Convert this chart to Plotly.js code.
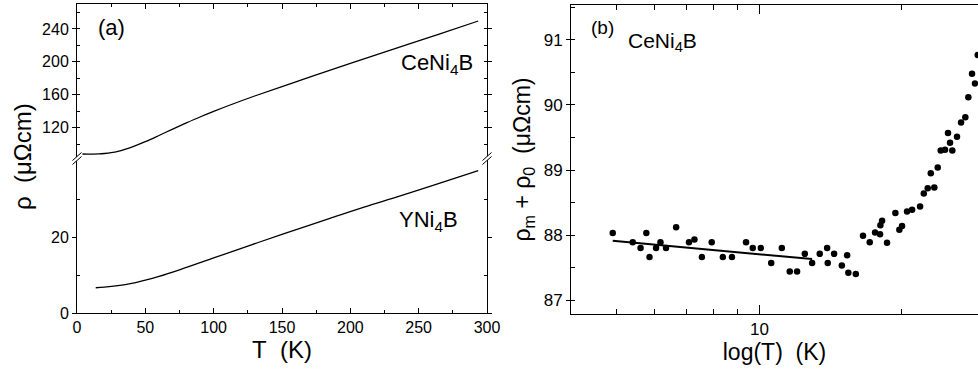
<!DOCTYPE html>
<html><head><meta charset="utf-8">
<script src="https://cdn.plot.ly/plotly-3.0.1.min.js"></script>
<style>html,body{margin:0;padding:0;background:#fff}#chart{width:978px;height:375px}</style>
</head><body><div id="chart"></div>
<script>
// Panel (a): resistivity vs temperature
const ceT   = [4, 8, 12, 16, 20, 25, 30, 35, 41, 50, 60, 70, 80, 90, 100, 114, 130, 150, 175, 200, 236, 265, 293.6];
const ceRho = [88.0, 87.9, 87.9, 88.1, 88.6, 89.6, 91.2, 93.6, 97.0, 103.0, 110.5, 118.3, 125.8, 133.0, 139.8, 148.8, 158.5, 170.0, 184.2, 198.2, 218.0, 233.8, 249.7];
const yT    = [13.7, 20, 30, 40, 50, 60, 75, 100, 125, 151, 185, 210, 236, 265, 293.6];
const yRho  = [6.7, 6.85, 7.25, 7.85, 8.7, 9.7, 11.45, 14.6, 17.75, 21.0, 25.1, 28.1, 31.0, 34.4, 37.8];
const aLowerTicks = [0, 20];
const aUpperTicks = [120, 160, 200, 240];

// Panel (b): rho_m + rho_0 vs log(T)
const bT = [4.90, 5.40, 5.61, 5.77, 5.86, 6.05, 6.18, 6.35, 6.67, 7.10, 7.29, 7.56, 7.93, 8.37, 8.75, 9.37, 9.68,
  10.07, 10.59, 11.15, 11.59, 12.01, 12.47, 12.92, 13.41, 13.90, 13.94, 14.38, 14.93, 15.32, 15.41, 15.98,
  16.55, 17.10, 17.55, 17.98, 18.01, 18.16, 18.60, 19.37, 19.75, 20.01, 20.50, 21.01, 21.84, 22.24, 22.67,
  23.01, 23.41, 23.80, 24.15, 24.66, 25.02, 25.27, 25.55, 26.14, 26.66, 27.22, 27.62, 28.12, 28.53, 28.91];
const bRho = [88.03, 87.89, 87.80, 88.03, 87.66, 87.80, 87.89, 87.80, 88.12, 87.89, 87.93, 87.66, 87.89, 87.66, 87.66, 87.89, 87.80,
  87.80, 87.57, 87.80, 87.44, 87.44, 87.71, 87.57, 87.71, 87.80, 87.57, 87.71, 87.53, 87.69, 87.42, 87.40,
  87.99, 87.89, 88.04, 88.01, 88.15, 88.22, 87.88, 88.34, 88.08, 88.14, 88.36, 88.39, 88.44, 88.64, 88.72,
  88.95, 88.73, 89.04, 89.30, 89.31, 89.57, 89.42, 89.30, 89.51, 89.73, 89.81, 90.12, 90.48, 90.33, 90.77];
const fitT   = [4.90, 12.92];
const fitRho = [87.91, 87.63];
const bMajorTicks = [10];
const bMinorTicks = [5, 6, 7, 8, 9, 20];

const W = 978, H = 375;
const px = v => v / W, py = v => 1 - v / H;
const FONT = 'Liberation Sans, Arial, sans-serif';
const blk = '#000';

const traces = [
  {x: ceT, y: ceRho, xaxis: 'x3', yaxis: 'y2', mode: 'lines', line: {color: blk, width: 1.3, shape: 'spline'}, name: 'CeNi4B'},
  {x: yT, y: yRho, xaxis: 'x', yaxis: 'y', mode: 'lines', line: {color: blk, width: 1.3, shape: 'spline'}, name: 'YNi4B'},
  {x: bT, y: bRho, xaxis: 'x2', yaxis: 'y3', mode: 'markers', marker: {color: blk, size: 6.5}, name: 'data'},
  {x: fitT, y: fitRho, xaxis: 'x2', yaxis: 'y3', mode: 'lines', line: {color: blk, width: 2}, name: 'fit'}
];

const axBase = {showline: true, linecolor: blk, linewidth: 1, showgrid: false, zeroline: false,
  tickcolor: blk, tickfont: {family: FONT, size: 16, color: blk}, fixedrange: true};

const breakShapes = [];
[77, 487].forEach(cx => {
  const cy = 160;
  breakShapes.push({type: 'path', xref: 'paper', yref: 'paper', layer: 'above',
    path: `M ${px(cx-4)} ${py(cy+4)} L ${px(cx+4)} ${py(cy-3)} L ${px(cx+4)} ${py(cy-7)} L ${px(cx-4)} ${py(cy)} Z`,
    fillcolor: '#fff', line: {width: 0}});
  breakShapes.push({type: 'line', xref: 'paper', yref: 'paper', layer: 'above',
    x0: px(cx-4.5), y0: py(cy+4.5), x1: px(cx+4.5), y1: py(cy-3.5), line: {color: blk, width: 1}});
  breakShapes.push({type: 'line', xref: 'paper', yref: 'paper', layer: 'above',
    x0: px(cx-4.5), y0: py(cy+0.5), x1: px(cx+4.5), y1: py(cy-7.5), line: {color: blk, width: 1}});
});

const layout = {
  width: W, height: H,
  margin: {l: 0, r: 0, t: 0, b: 0},
  paper_bgcolor: '#fff', plot_bgcolor: '#fff',
  showlegend: false,
  font: {family: FONT, color: blk},
  xaxis: Object.assign({}, axBase, {
    domain: [px(77), px(487)], range: [0, 300], anchor: 'y',
    tick0: 0, dtick: 50, ticks: 'inside', ticklen: 5, mirror: false,
    minor: {dtick: 25, tick0: 0, ticks: 'inside', ticklen: 3, tickcolor: blk},
    title: {text: 'T\u00a0\u00a0(K)', font: {family: FONT, size: 24, color: blk}, standoff: 4}
  }),
  xaxis3: Object.assign({}, axBase, {
    domain: [px(77), px(487)], range: [0, 300], anchor: 'y2', side: 'top', matches: 'x',
    tick0: 0, dtick: 50, ticks: 'inside', ticklen: 5, mirror: false, showticklabels: false,
    minor: {dtick: 25, tick0: 0, ticks: 'inside', ticklen: 3, tickcolor: blk}
  }),
  yaxis: Object.assign({}, axBase, {
    domain: [py(313), py(160)], range: [0, 40.6], anchor: 'x',
    tickmode: 'array', tickvals: aLowerTicks, ticks: 'outside', ticklen: 4, mirror: 'ticks',
    minor: {tickmode: 'array', tickvals: [10, 30], ticks: 'inside', ticklen: 3, tickcolor: blk}
  }),
  yaxis2: Object.assign({}, axBase, {
    domain: [py(160), py(4.3)], range: [80.7, 270], anchor: 'x3',
    tickmode: 'array', tickvals: aUpperTicks, ticks: 'outside', ticklen: 4, mirror: 'ticks',
    minor: {dtick: 20, tick0: 0, ticks: 'inside', ticklen: 3, tickcolor: blk}
  }),
  xaxis2: Object.assign({}, axBase, {
    type: 'log', domain: [px(571), 1], range: [Math.log10(4.0), Math.log10(28.95)], anchor: 'y3',
    tickmode: 'array', tickvals: bMajorTicks, ticktext: ['10'], ticks: 'inside', ticklen: 9, mirror: 'ticks',
    tickfont: {family: FONT, size: 17, color: blk},
    minor: {tickmode: 'array', tickvals: bMinorTicks, ticks: 'inside', ticklen: 5, tickcolor: blk},
    title: {text: 'log(T)\u00a0\u00a0(K)', font: {family: FONT, size: 23, color: blk}, standoff: 2}
  }),
  yaxis3: Object.assign({}, axBase, {
    domain: [py(314), py(5)], range: [86.785, 91.538], anchor: 'x2',
    tick0: 87, dtick: 1, ticks: 'outside', ticklen: 4, mirror: false,
    tickfont: {family: FONT, size: 17, color: blk},
    minor: {dtick: 0.5, tick0: 87, ticks: 'inside', ticklen: 4, tickcolor: blk},
    title: {text: 'ρ<sub>m</sub> + ρ<sub>0</sub>\u00a0\u00a0(μΩcm)', font: {family: FONT, size: 23, color: blk}, standoff: 6}
  }),
  shapes: breakShapes,
  annotations: [
    {text: 'ρ\u00a0\u00a0(μΩcm)', xref: 'paper', yref: 'paper', x: px(22), y: py(157), textangle: -90,
     showarrow: false, xanchor: 'center', yanchor: 'middle', font: {family: FONT, size: 24, color: blk}},
    {text: '(a)', xref: 'paper', yref: 'paper', x: px(96), y: py(28), showarrow: false, xanchor: 'left', yanchor: 'middle',
     font: {family: FONT, size: 22, color: blk}},
    {text: 'CeNi<sub>4</sub>B', xref: 'paper', yref: 'paper', x: px(399), y: py(64), showarrow: false, xanchor: 'left', yanchor: 'middle',
     font: {family: FONT, size: 22, color: blk}},
    {text: 'YNi<sub>4</sub>B', xref: 'paper', yref: 'paper', x: px(397), y: py(221), showarrow: false, xanchor: 'left', yanchor: 'middle',
     font: {family: FONT, size: 22, color: blk}},
    {text: '(b)', xref: 'paper', yref: 'paper', x: px(589), y: py(28), showarrow: false, xanchor: 'left', yanchor: 'middle',
     font: {family: FONT, size: 19, color: blk}},
    {text: 'CeNi<sub>4</sub>B', xref: 'paper', yref: 'paper', x: px(626), y: py(42), showarrow: false, xanchor: 'left', yanchor: 'middle',
     font: {family: FONT, size: 21, color: blk}}
  ]
};

Plotly.newPlot('chart', traces, layout, {displayModeBar: false, staticPlot: true});
</script></body></html>
